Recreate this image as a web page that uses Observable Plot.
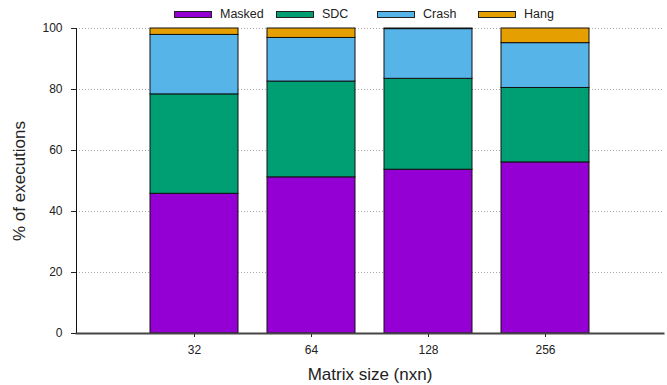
<!DOCTYPE html>
<html><head><meta charset="utf-8">
<script src="https://cdn.jsdelivr.net/npm/d3@7"></script>
<script src="https://cdn.jsdelivr.net/npm/@observablehq/plot@0.6"></script>
<style>
body{margin:0;background:#fff;font-family:"Liberation Sans",Arial,sans-serif;}
#wrap{position:relative;width:667px;height:385px;}
#legend{position:absolute;top:7px;left:174px;display:flex;font-size:12.5px;color:#222;}
#legend .item{display:flex;align-items:center;}
#legend .sw{width:36px;height:5px;border:1px solid #222;margin-right:8px;}
</style></head>
<body><div id="wrap"><div id="legend"></div><div id="chart"></div></div>
<script>
const sizes = ["32", "64", "128", "256"];
const types = ["Masked", "SDC", "Crash", "Hang"];
const colors = ["#9400D3", "#009E73", "#56B4E9", "#E69F00"];
const masked = [45.8, 51.2, 53.7, 56.1];
const sdc = [32.6, 31.4, 29.8, 24.4];
const crash = [19.5, 14.3, 16.3, 14.7];
const hang = [2.1, 3.1, 0.2, 4.8];
const yTicks = [0, 20, 40, 60, 80, 100];

const series = [masked, sdc, crash, hang];
const data = [];
types.forEach((t, i) => sizes.forEach((s, j) => data.push({size: s, type: t, value: series[i][j]})));

const lg = document.getElementById("legend");
types.forEach((t, i) => {
  const it = document.createElement("div");
  it.className = "item";
  it.style.width = [102, 101, 101, 80][i] + "px";
  it.innerHTML = `<div class="sw" style="background:${colors[i]}"></div><span>${t}</span>`;
  lg.appendChild(it);
});

const chart = Plot.plot({
  width: 667, height: 385,
  marginLeft: 76, marginRight: 4, marginTop: 28, marginBottom: 52,
  style: {fontFamily: "'Liberation Sans', Arial, sans-serif", fontSize: "12px", color: "#222"},
  x: {domain: sizes, paddingInner: 0.25, paddingOuter: 0.625, label: null},
  y: {domain: [0, 100], label: null},
  color: {domain: types, range: colors},
  marks: [
    Plot.gridY(yTicks, {stroke: "#aaa", strokeOpacity: 1, strokeDasharray: "1,2"}),
    Plot.barY(data, {x: "size", y: "value", fill: "type", order: types, stroke: "#111", strokeWidth: 1, inset: 0}),
    Plot.axisY(yTicks, {tickSize: 5, tickPadding: 9, label: "% of executions", labelAnchor: "center", labelArrow: "none", labelOffset: 64, fontSize: 12}),
    Plot.axisX({tickSize: 4, tickPadding: 8, label: "Matrix size (nxn)", labelAnchor: "center", labelArrow: "none", labelOffset: 46}),
    Plot.frame({anchor: "left", stroke: "#111"}),
    Plot.frame({anchor: "bottom", stroke: "#444", strokeWidth: 2})
  ]
});
document.getElementById("chart").appendChild(chart);
chart.querySelectorAll("g[aria-label='y-axis label'] text, g[aria-label='x-axis label'] text").forEach(t => t.style.fontSize = "17px");
</script></body></html>
